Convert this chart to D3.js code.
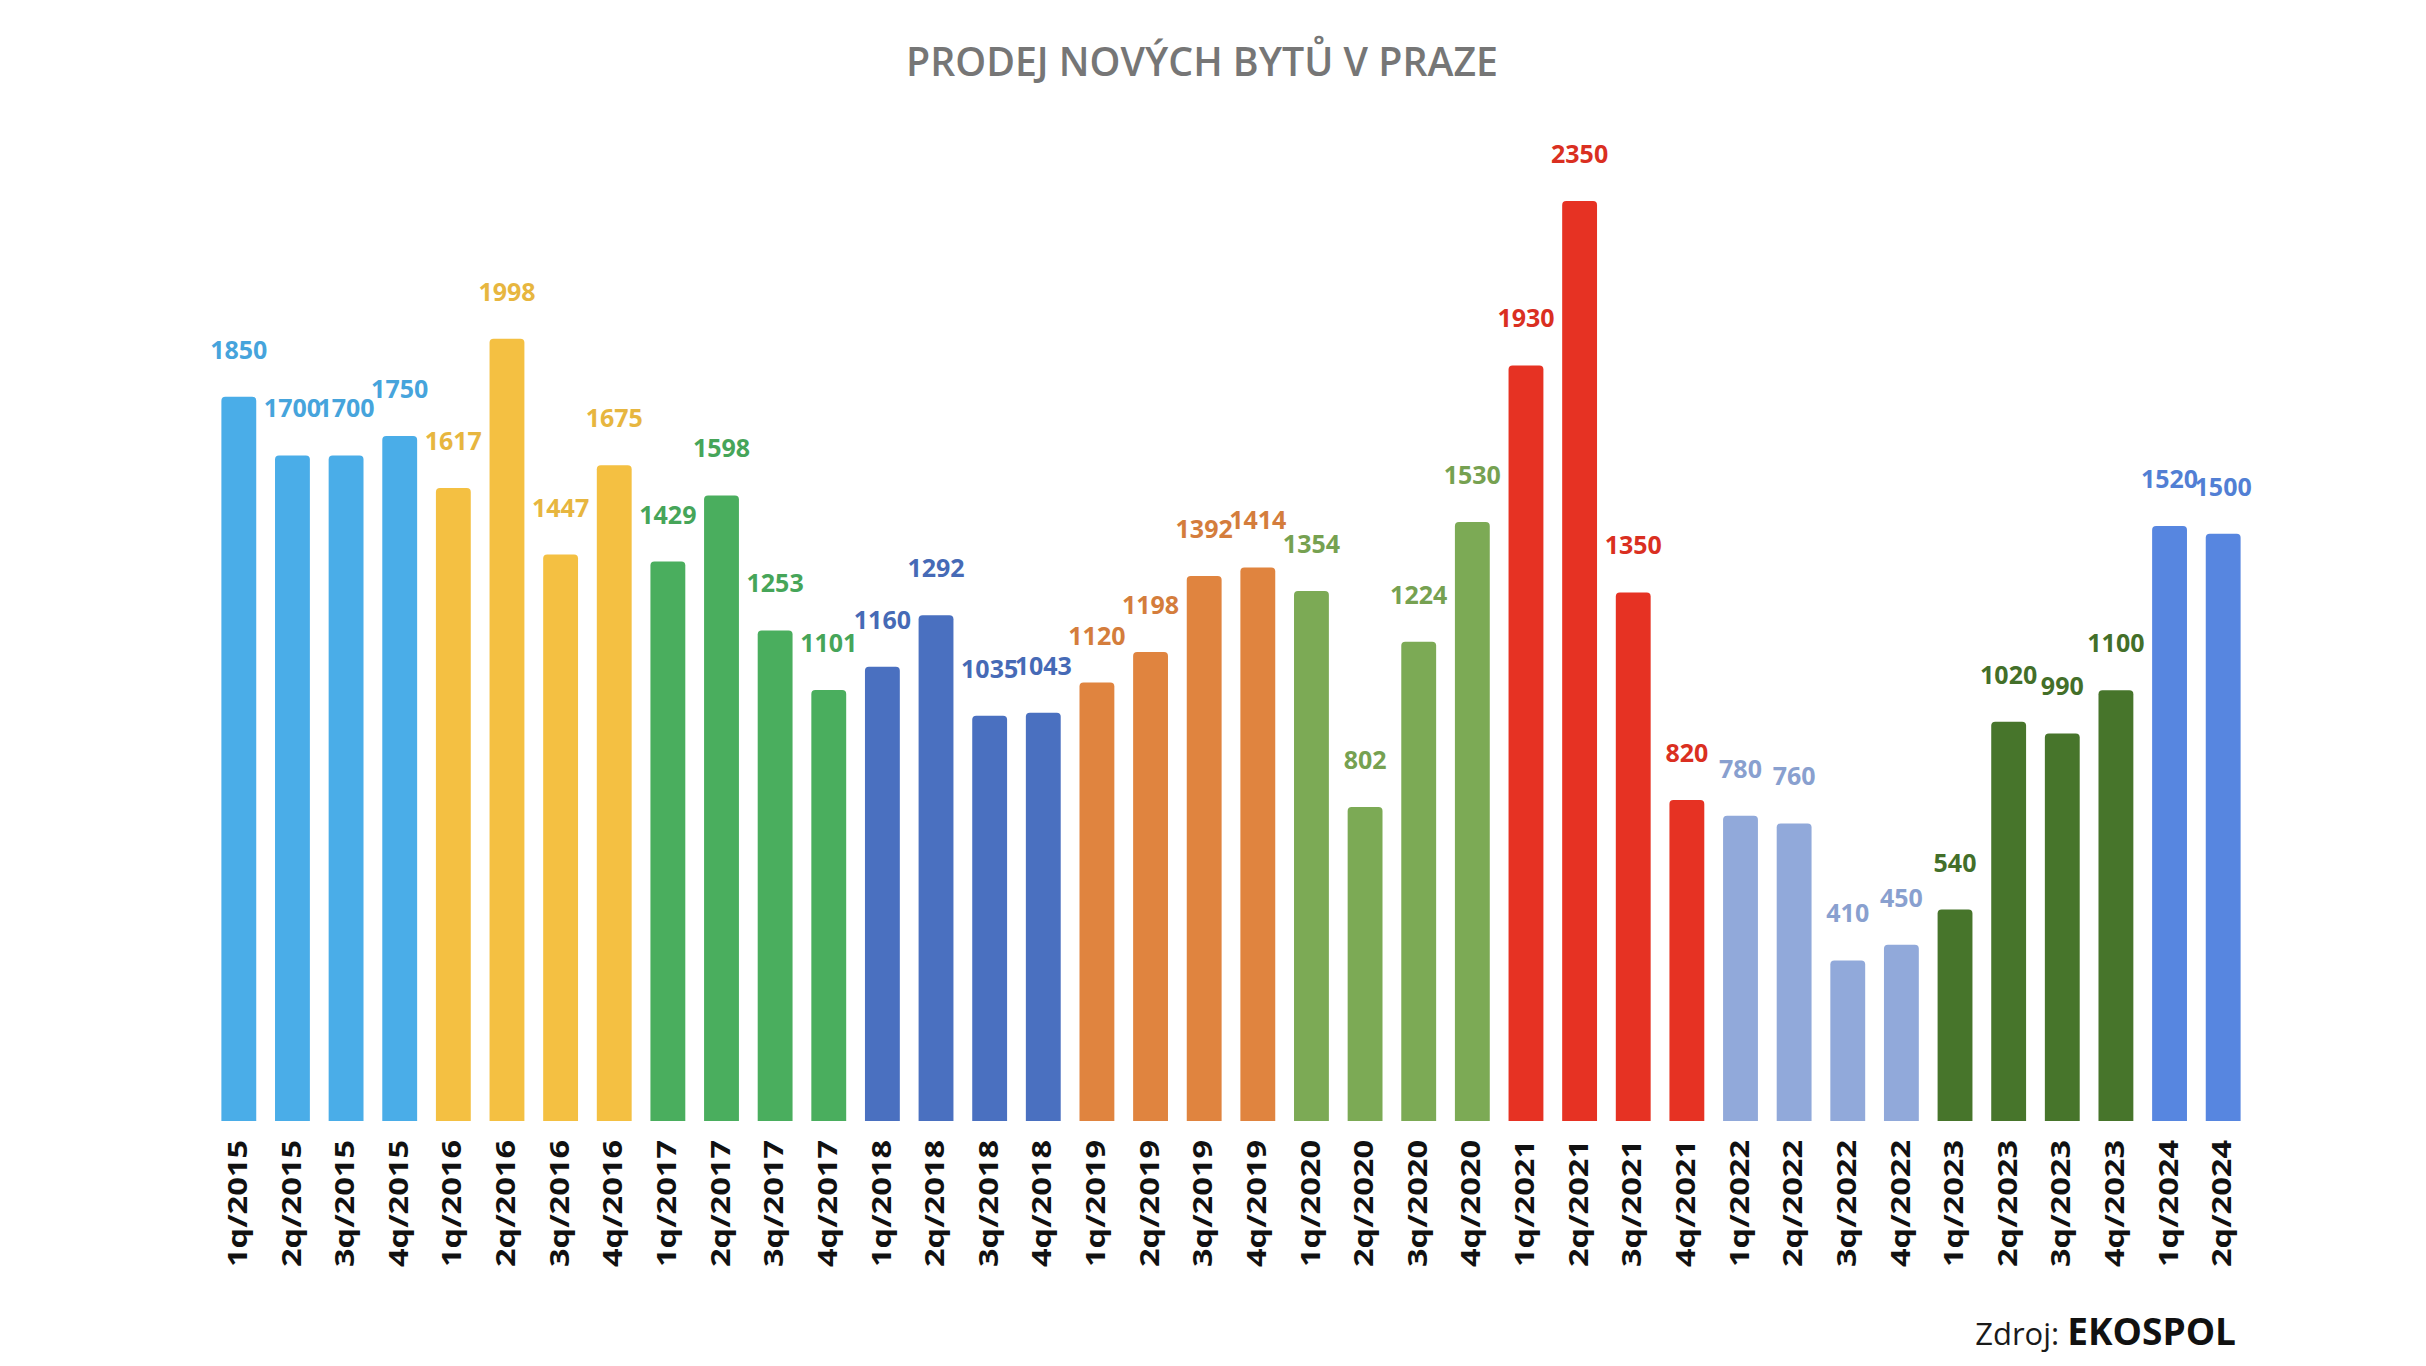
<!DOCTYPE html>
<html>
<head>
<meta charset="utf-8">
<script src="https://cdn.jsdelivr.net/npm/d3@7"></script>
<style>
  html, body { margin: 0; padding: 0; background: #ffffff; }
  svg { display: block; }
</style>
</head>
<body>
<svg id="chart" width="2426" height="1366"></svg>
<script>
const categories = [
  "1q/2015","2q/2015","3q/2015","4q/2015",
  "1q/2016","2q/2016","3q/2016","4q/2016",
  "1q/2017","2q/2017","3q/2017","4q/2017",
  "1q/2018","2q/2018","3q/2018","4q/2018",
  "1q/2019","2q/2019","3q/2019","4q/2019",
  "1q/2020","2q/2020","3q/2020","4q/2020",
  "1q/2021","2q/2021","3q/2021","4q/2021",
  "1q/2022","2q/2022","3q/2022","4q/2022",
  "1q/2023","2q/2023","3q/2023","4q/2023",
  "1q/2024","2q/2024"
];
const values = [
  1850,1700,1700,1750,
  1617,1998,1447,1675,
  1429,1598,1253,1101,
  1160,1292,1035,1043,
  1120,1198,1392,1414,
  1354,802,1224,1530,
  1930,2350,1350,820,
  780,760,410,450,
  540,1020,990,1100,
  1520,1500
];
const years = ["2015","2016","2017","2018","2019","2020","2021","2022","2023","2024"];
const yearColors = ["#4AADE8","#F4C042","#4AAE5E","#4A70C0","#E0843F","#7CAA55","#E63223","#91A9DA","#47752B","#5786E0"];
const titleText = "PRODEJ NOVÝCH BYTŮ V PRAZE";
const sourceLabel = "Zdroj: ";
const sourceName = "EKOSPOL";

const data = categories.map((c, i) => ({ cat: c, value: values[i], year: c.split("/")[1] }));
const color = d3.scaleOrdinal().domain(years).range(yearColors);

const svg = d3.select("#chart");
const baseY = 1121, topY = 201;

const x = d3.scaleBand()
  .domain(categories)
  .range([212, 2250])
  .paddingInner(0.35)
  .paddingOuter(0.175);

const y = d3.scaleLinear()
  .domain([0, 2350])
  .range([baseY, topY]);

// Title
svg.append("text")
  .attr("x", 1202)
  .attr("y", 76)
  .attr("text-anchor", "middle")
  .attr("font-family", "'Open Sans', sans-serif")
  .attr("font-weight", 600)
  .attr("font-size", 39)
  .attr("fill", "#767676")
  .attr("textLength", 592)
  .attr("lengthAdjust", "spacingAndGlyphs")
  .text(titleText);

// Bars with slightly rounded top corners
const r = 4;
svg.append("g").selectAll("path")
  .data(data)
  .join("path")
  .attr("d", d => {
    const x0 = x(d.cat), w = x.bandwidth(), y0 = y(d.value), y1 = y(0);
    return `M${x0},${y1} L${x0},${y0 + r} Q${x0},${y0} ${x0 + r},${y0} L${x0 + w - r},${y0} Q${x0 + w},${y0} ${x0 + w},${y0 + r} L${x0 + w},${y1} Z`;
  })
  .attr("fill", d => color(d.year));

// Value labels
svg.append("g").selectAll("text")
  .data(data)
  .join("text")
  .attr("x", d => x(d.cat) + x.bandwidth() / 2)
  .attr("y", d => y(d.value) - 38)
  .attr("text-anchor", "middle")
  .attr("font-family", "'Open Sans', sans-serif")
  .attr("font-weight", 700)
  .attr("font-size", 25)
  .attr("fill", d => d3.color(color(d.year)).darker(0.15).formatHex())
  .text(d => d.value);

// X axis labels (rotated)
const xAxis = d3.axisBottom(x).tickSize(0).tickPadding(0);
const gx = svg.append("g")
  .attr("transform", `translate(0,${baseY})`)
  .call(xAxis);
gx.select(".domain").remove();
gx.selectAll(".tick text")
  .attr("transform", "translate(0,19) rotate(-90)")
  .attr("x", 0)
  .attr("y", 0)
  .attr("dy", "0.3em")
  .attr("text-anchor", "end")
  .attr("font-family", "'Open Sans', sans-serif")
  .attr("font-weight", 700)
  .attr("font-size", 27)
  .attr("fill", "#111111")
  .attr("textLength", 127)
  .attr("lengthAdjust", "spacingAndGlyphs");

// Source
const src = svg.append("text")
  .attr("x", 2236)
  .attr("y", 1345)
  .attr("text-anchor", "end")
  .attr("font-family", "'Open Sans', sans-serif")
  .attr("fill", "#1a1a1a");
src.append("tspan").attr("font-size", 31).attr("font-weight", 400).text(sourceLabel);
src.append("tspan").attr("font-size", 37).attr("font-weight", 700).attr("fill", "#111").text(sourceName);
</script>
</body>
</html>
